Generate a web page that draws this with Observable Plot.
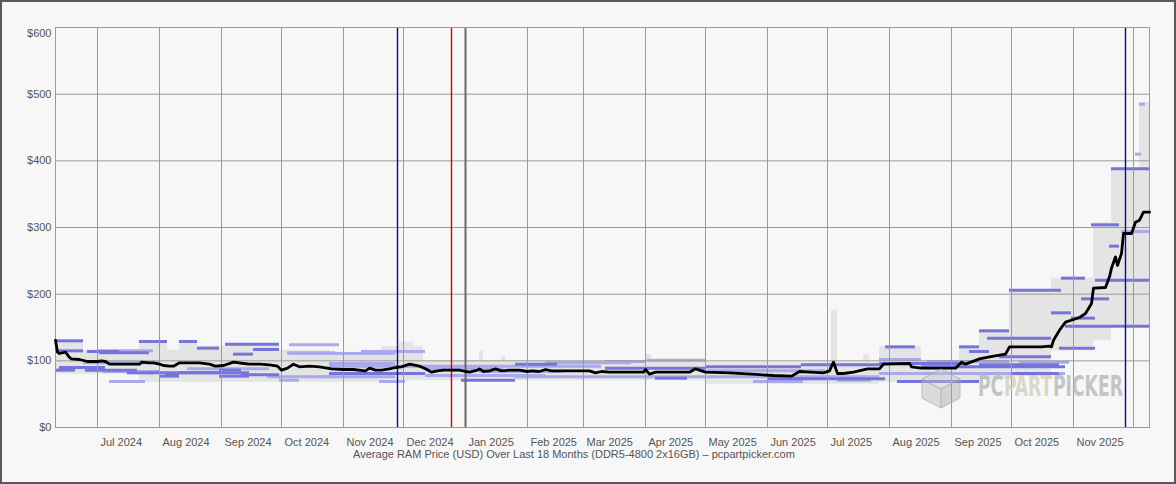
<!DOCTYPE html>
<html><head><meta charset="utf-8">
<script src="https://cdn.jsdelivr.net/npm/d3@7"></script>
<script src="https://cdn.jsdelivr.net/npm/@observablehq/plot@0.6"></script>
<style>
html,body{margin:0;padding:0;background:#f7f7f7;}
#wrap{position:relative;width:1176px;height:484px;background:#f7f7f7;overflow:hidden;font-family:"Liberation Sans",Arial,sans-serif;}
#border{position:absolute;left:0;top:0;width:1176px;height:484px;box-sizing:border-box;border:2px solid #5a5a5a;pointer-events:none;}
#caption{position:absolute;top:447px;left:274px;width:600px;text-align:center;font-size:11px;line-height:14px;color:#555;white-space:nowrap;}
#wm{position:absolute;left:0;top:0;pointer-events:none;}
</style></head><body>
<div id="wrap">
<div id="chart"></div>
<div id="caption"></div>
<svg id="wm" width="1176" height="484"></svg>
<div id="border"></div>
</div>
<script>
// ---------- data ----------
const domainX = ["2024-06-10", "2025-12-09"];
const gridMonths = ["2024-07-01","2024-08-01","2024-09-01","2024-10-01","2024-11-01","2024-12-01","2025-01-01","2025-02-01","2025-03-01","2025-04-01","2025-05-01","2025-06-01","2025-07-01","2025-08-01","2025-09-01","2025-10-01","2025-11-01","2025-12-01"];
const labelMonths = gridMonths.slice(0, 17);
const yearStart = ["2025-01-01"];
const yTicks = [0, 100, 200, 300, 400, 500];
const yTop = [600];
const captionText = "Average RAM Price (USD) Over Last 18 Months (DDR5-4800 2x16GB) \u2013 pcpartpicker.com";
const watermarkParts = ["PC", "PART", "PICKER"];
const watermarkColors = ["#b4b4b4", "#d2cdb8", "#b4b4b4"];

const eventDates = ["2024-11-28", "2024-12-25", "2025-11-27"];
const eventColors = ["#0a0a9a", "#dd0000", "#0a0a9a"];

const lineDates = [
"2024-06-10","2024-06-11","2024-06-12","2024-06-15","2024-06-17","2024-06-18","2024-06-22","2024-06-26",
"2024-07-01","2024-07-03","2024-07-05","2024-07-07","2024-07-14","2024-07-22","2024-07-23","2024-07-27","2024-07-29",
"2024-08-01","2024-08-03","2024-08-06","2024-08-08","2024-08-11","2024-08-16","2024-08-21","2024-08-26","2024-08-29",
"2024-09-02","2024-09-07","2024-09-12","2024-09-15","2024-09-20","2024-09-25","2024-09-29",
"2024-10-01","2024-10-04","2024-10-07","2024-10-10","2024-10-15","2024-10-20","2024-10-26",
"2024-11-01","2024-11-06","2024-11-12","2024-11-14","2024-11-17","2024-11-20","2024-11-24","2024-11-27","2024-11-30",
"2024-12-04","2024-12-06","2024-12-09","2024-12-12","2024-12-15","2024-12-18","2024-12-21","2024-12-29",
"2025-01-01","2025-01-03","2025-01-07","2025-01-08","2025-01-10","2025-01-13","2025-01-16","2025-01-19","2025-01-23","2025-01-28",
"2025-02-01","2025-02-03","2025-02-07","2025-02-10","2025-02-13","2025-02-22",
"2025-03-01","2025-03-04","2025-03-07","2025-03-10","2025-03-14","2025-03-31",
"2025-04-01","2025-04-03","2025-04-06","2025-04-23","2025-04-26",
"2025-05-01","2025-05-13","2025-05-24",
"2025-06-04","2025-06-13","2025-06-17","2025-06-22","2025-06-29",
"2025-07-02","2025-07-04","2025-07-06","2025-07-09","2025-07-14","2025-07-21","2025-07-27","2025-07-29",
"2025-08-11","2025-08-12","2025-08-17",
"2025-09-03","2025-09-06","2025-09-08","2025-09-15","2025-09-20","2025-09-28","2025-09-30",
"2025-10-16","2025-10-20","2025-10-21","2025-10-22","2025-10-25","2025-10-28",
"2025-11-04","2025-11-07","2025-11-10","2025-11-11","2025-11-17","2025-11-19","2025-11-20","2025-11-22","2025-11-23","2025-11-25","2025-11-26","2025-11-30",
"2025-12-02","2025-12-04","2025-12-06","2025-12-09"];
const linePrices = [
131,113,111,113,105,103,102,99,
99,100,99,95,95,95,98,97,97,
95,93,92,92,97,97,97,95,92,
93,98,96,95,95,94,92,
86,89,95,91,92,91,88,
87,87,85,89,86,86,88,90,91,
95,94,92,88,83,85,86,86,
84,83,86,88,84,85,88,85,86,86,
84,85,84,87,85,85,
85,85,82,84,83,83,
87,80,83,83,88,
83,82,80,
78,77,84,83,82,
85,98,81,81,83,88,88,95,
96,91,89,
89,98,95,103,106,110,121,
121,122,121,131,146,158,
165,171,186,209,210,226,239,256,243,261,291,291,
308,311,323,323];

// price range band (min / max of listed prices)
const bandDates = ["2024-06-10","2024-06-24","2024-07-22","2024-08-05","2024-08-11","2024-08-20","2024-09-03","2024-09-30","2024-10-25","2024-11-20","2024-11-29","2024-12-06","2024-12-11","2025-01-08","2025-01-10","2025-01-19","2025-01-21","2025-03-31","2025-04-01","2025-04-04","2025-05-01","2025-07-03","2025-07-06","2025-07-19","2025-07-22","2025-07-27","2025-08-17","2025-09-05","2025-09-15","2025-09-30","2025-10-21","2025-11-11","2025-11-20","2025-12-04","2025-12-09"];
const bandLow  = [80,80,68,68,68,68,68,68,68,70,70,70,70,70,70,70,70,70,70,70,65,65,65,65,65,68,68,70,72,76,115,130,150,150,150];
const bandHigh = [131,116,130,116,130,122,126,116,113,121,128,121,100,114,100,107,100,97,109,101,97,176,97,109,97,121,101,121,146,206,224,307,389,487,487];

// individual listing price segments: start, end, price, tone (1 = strong, 0 = light)
const segStart = ["2024-06-10","2024-06-26","2024-07-01","2024-07-22","2024-08-11","2024-08-20","2024-09-03","2024-09-07","2024-09-17","2024-10-04",
"2024-06-10","2024-06-25","2024-07-04","2024-07-16","2024-08-04","2024-08-11","2024-08-31","2024-09-11","2024-09-24","2024-07-07","2024-09-30",
"2024-10-25","2024-10-25","2024-11-10","2024-10-25","2025-01-26","2024-10-25","2024-11-19","2024-12-30","2025-01-26","2025-01-08",
"2025-03-12","2025-03-12","2025-04-02","2025-05-01","2025-06-18","2025-03-12","2025-04-06","2025-05-25","2025-07-06",
"2025-07-30","2025-07-27","2025-07-27","2025-09-05","2025-09-10","2025-09-15","2025-09-19","2025-09-25","2025-07-27","2025-08-17","2025-08-05","2025-10-01",
"2025-09-30","2025-10-21","2025-10-26","2025-10-31","2025-10-25","2025-10-28","2025-11-05","2025-11-12","2025-11-10","2025-11-19","2025-11-25","2025-11-20","2025-12-02","2025-12-04",
"2024-06-10","2024-07-02","2024-06-24","2024-07-27","2024-08-01","2024-08-31","2024-10-05","2024-10-05","2024-10-20","2024-06-12","2024-08-15","2024-12-12","2025-02-10","2025-05-01","2025-06-01","2025-08-20","2025-10-05","2025-09-15","2024-12-12"];
const segEnd = ["2024-06-24","2024-07-12","2024-07-29","2024-08-05","2024-08-20","2024-08-31","2024-09-30","2024-09-17","2024-09-30","2024-10-28",
"2024-06-20","2024-07-21","2024-08-01","2024-07-29","2024-08-11","2024-08-31","2024-09-11","2024-09-30","2024-10-28","2024-07-25","2024-10-10",
"2024-11-10","2024-11-27","2024-12-12","2025-03-10","2025-02-16","2024-12-12","2024-12-02","2025-01-26","2025-03-12","2025-02-19",
"2025-04-01","2025-05-01","2025-05-01","2025-06-18","2025-07-29","2025-07-27","2025-04-22","2025-06-19","2025-07-23",
"2025-08-14","2025-08-17","2025-09-07","2025-09-15","2025-09-20","2025-09-30","2025-10-21","2025-10-21","2025-10-28","2025-10-28","2025-09-15","2025-10-25",
"2025-10-26","2025-10-31","2025-11-07","2025-11-12","2025-11-12","2025-12-09","2025-11-19","2025-12-09","2025-11-24","2025-11-24","2025-12-09","2025-12-09","2025-12-05","2025-12-07",
"2024-06-24","2024-07-27","2024-08-01","2024-09-15","2024-08-11","2024-09-15","2024-10-30","2024-11-27","2024-11-27","2024-07-05","2024-09-25","2025-02-10","2025-03-25","2025-06-30","2025-07-30","2025-09-30","2025-10-30","2025-10-25","2025-01-20"];
const segPrice = [130,114,115,129,129,119,125,110,117,112,
86,86,84,82,80,82,86,79,76,69,71,
111,96,114,92,95,81,69,71,76,84,
99,89,101,91,94,76,74,69,71,
121,102,96,121,114,145,134,106,81,91,69,81,
206,172,224,164,119,152,193,221,304,272,294,388,410,485,
115,112,97,82,77,77,124,111,76,90,88,78,97,85,73,99,98,94,88];
const segTone = [1,1,0,1,1,1,1,1,1,0,
1,1,0,1,1,1,1,1,0,0,0,
0,0,0,0,1,1,0,1,0,0,
0,1,0,1,1,0,1,0,0,
1,0,1,1,1,1,1,1,0,1,1,1,
1,1,1,1,1,1,1,1,1,1,0,1,0,0,
1,1,0,1,1,1,0,0,0,1,0,0,0,0,1,0,0,1,0];

// ---------- build ----------
const P = d => new Date(d + "T00:00:00Z");
const priceData = lineDates.map((d, i) => ({date: P(d), price: linePrices[i]}));
const band = bandDates.map((d, i) => ({date: P(d), lo: bandLow[i], hi: bandHigh[i]}));
const segs = segStart.map((d, i) => ({start: P(d), end: P(segEnd[i]), price: segPrice[i], tone: segTone[i]}));
const strongSegs = segs.filter(d => d.tone === 1);
const lightSegs = segs.filter(d => d.tone === 0);

const chart = Plot.plot({
  width: 1176,
  height: 448,
  marginLeft: 55,
  marginRight: 27,
  marginTop: 27,
  marginBottom: 21,
  style: {background: "#f7f7f7", fontFamily: "'Liberation Sans', Arial, sans-serif", fontSize: "11px", color: "#555555"},
  x: {type: "utc", domain: domainX.map(P)},
  y: {domain: [0, 600]},
  marks: [
    Plot.areaY(band, {x: "date", y1: "lo", y2: "hi", fill: "#e4e4e4", curve: "step-after"}),
    Plot.ruleY(lightSegs, {x1: "start", x2: "end", y: "price", stroke: "#aaaaea", strokeWidth: 3}),
    Plot.ruleY(strongSegs, {x1: "start", x2: "end", y: "price", stroke: "#7474dc", strokeWidth: 3}),
    Plot.gridX(gridMonths.map(P), {stroke: "#9a9a9a", strokeOpacity: 1}),
    Plot.gridY(yTicks.concat(yTop), {stroke: "#9a9a9a", strokeOpacity: 1}),
    Plot.ruleX(yearStart.map(P), {stroke: "#6a6a6a", strokeWidth: 2}),
    ...eventDates.map((d, i) => Plot.ruleX([P(d)], {stroke: eventColors[i], strokeWidth: 1.4})),
    Plot.frame({stroke: "#9a9a9a"}),
    Plot.line(priceData, {x: "date", y: "price", stroke: "#000", strokeWidth: 2.8}),
    Plot.axisX(labelMonths.map(P), {tickSize: 0, tickFormat: d3.utcFormat("%b %Y"), textAnchor: "start", dx: 3, dy: 2, label: null, fill: "#555555"}),
    Plot.axisY(yTicks, {tickSize: 0, tickPadding: 4, tickFormat: d => "$" + d, label: null, fill: "#555555"}),
    Plot.axisY(yTop, {tickSize: 0, tickPadding: 4, tickFormat: d => "$" + d, label: null, fill: "#555555", dy: 6})
  ]
});
document.getElementById("chart").appendChild(chart);
document.getElementById("caption").textContent = captionText;

// watermark logo
const wm = d3.select("#wm").append("g").attr("opacity", 0.75);
const cube = wm.append("g").attr("fill-opacity", 0.55).attr("stroke", "#a8a8a8").attr("stroke-width", 1);
cube.append("polygon").attr("points", "941,369 960,379 941,389 922,379").attr("fill", "#c8c8c8");
cube.append("polygon").attr("points", "922,379 941,389 941,408 922,398").attr("fill", "#b4b4b4");
cube.append("polygon").attr("points", "941,389 960,379 960,398 941,408").attr("fill", "#a0a0a0");
// letters laid out at natural width, then the group is squeezed horizontally to 145px
const wordG = wm.append("g");
let cursor = 0;
watermarkParts.forEach((s, i) => {
  const el = wordG.append("text").attr("x", cursor).attr("y", 0)
    .attr("font-family", "'DejaVu Sans Condensed', 'Liberation Sans Narrow', sans-serif")
    .attr("font-weight", "bold").attr("font-size", 29)
    .attr("fill", watermarkColors[i]).text(s);
  cursor += el.node().getComputedTextLength() + 1;
});
const sx = 145 / (cursor - 1);
wordG.attr("transform", `translate(978,396) scale(${sx},1)`);
</script>
</body></html>
